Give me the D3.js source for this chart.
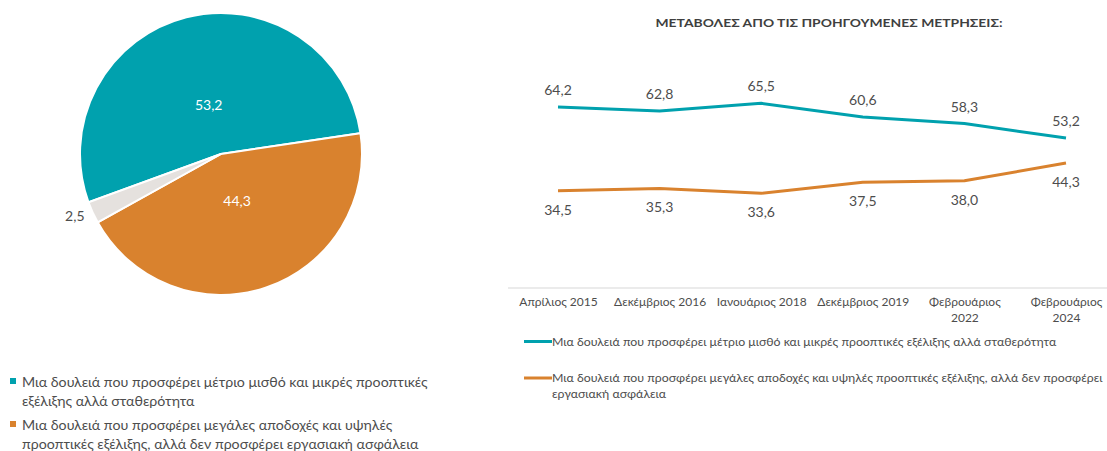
<!DOCTYPE html>
<html lang="el">
    <head>
        <meta charset="utf-8">
        <title>Σταθερότητα ή αποδοχές</title>
        <script type="text/javascript" src="https://cdn.jsdelivr.net/npm/d3@7/dist/d3.min.js"></script>
        <style>
        body { margin: 0; background: #fff; }
        svg { display: block; font-family: Lato, "Open Sans", sans-serif; }
        </style>
    </head>
    <body>
        <script type="text/javascript">
            // pie data (latest wave)
            var pieLabels = ["Σταθερότητα", "Αποδοχές", "ΔΓ/ΔΑ"];
            var pieValues = [53.2, 44.3, 2.5];
            var pieColors = ["#00A1AE", "#D9822E", "#E5E1DE"];

            // line chart: previous measurements
            var waves = ["Απρίλιος 2015", "Δεκέμβριος 2016", "Ιανουάριος 2018",
                         "Δεκέμβριος 2019", "Φεβρουάριος 2022", "Φεβρουάριος 2024"];
            var stability = [64.2, 62.8, 65.5, 60.6, 58.3, 53.2];
            var earnings  = [34.5, 35.3, 33.6, 37.5, 38.0, 44.3];

            var legendTexts = [
                "Μια δουλειά που προσφέρει μέτριο μισθό και μικρές προοπτικές εξέλιξης αλλά σταθερότητα",
                "Μια δουλειά που προσφέρει μεγάλες αποδοχές και υψηλές προοπτικές εξέλιξης, αλλά δεν προσφέρει εργασιακή ασφάλεια"
            ];

            var w = 1107;
            var h = 451;
            var textGrey = "#4d4d4d";

            var svg = d3.select("body")
                        .append("svg")
                        .attr("width", w)
                        .attr("height", h);

            // ---- pie ----
            var cx = 221, cy = 154, radius = 141;

            var pie = d3.pie()
                        .sort(null)
                        .startAngle(-110 * Math.PI / 180)
                        .endAngle(250 * Math.PI / 180);

            var arc = d3.arc().innerRadius(0).outerRadius(radius);
            var labelArc = d3.arc().innerRadius(50).outerRadius(50);
            var outerArc = d3.arc().innerRadius(150).outerRadius(150);

            var pieG = svg.append("g")
                          .attr("transform", "translate(" + cx + "," + cy + ")");

            var slices = pie(pieValues);

            pieG.selectAll("path")
                .data(slices)
                .enter()
                .append("path")
                .attr("d", arc)
                .attr("fill", function(d, i) { return pieColors[i]; })
                .attr("stroke", "#fff")
                .attr("stroke-width", 2);

            pieG.selectAll("text")
                .data(slices)
                .enter()
                .append("text")
                .attr("transform", function(d) {
                    var c = d.data < 5 ? outerArc.centroid(d) : labelArc.centroid(d);
                    return "translate(" + c + ")";
                })
                .attr("dy", "0.35em")
                .attr("text-anchor", function(d) { return d.data < 5 ? "end" : "middle"; })
                .attr("font-size", 14)
                .attr("fill", function(d) { return d.data < 5 ? textGrey : "#fff"; })
                .text(function(d) { return d3.format(".1f")(d.data).replace(".", ","); });

            // left legend
            var leftLegend = [
                ["Μια δουλειά που προσφέρει μέτριο μισθό και μικρές προοπτικές", "εξέλιξης αλλά σταθερότητα"],
                ["Μια δουλειά που προσφέρει μεγάλες αποδοχές και υψηλές", "προοπτικές εξέλιξης, αλλά δεν προσφέρει εργασιακή ασφάλεια"]
            ];
            leftLegend.forEach(function(lines, i) {
                var y0 = 387 + i * 43;
                svg.append("rect")
                   .attr("x", 10).attr("y", y0 - 9)
                   .attr("width", 6).attr("height", 6)
                   .attr("fill", pieColors[i]);
                var t = svg.append("text")
                           .attr("x", 22).attr("y", y0)
                           .attr("font-size", 14.2)
                           .attr("fill", textGrey);
                lines.forEach(function(l, j) {
                    t.append("tspan").attr("x", 22).attr("dy", j ? 19 : 0).text(l);
                });
            });

            // ---- line chart ----
            svg.append("text")
               .attr("x", 829).attr("y", 27)
               .attr("text-anchor", "middle")
               .attr("font-size", 12)
               .attr("font-weight", "bold")
               .attr("fill", "#3f3f3f")
               .attr("textLength", 347)
               .attr("lengthAdjust", "spacingAndGlyphs")
               .text("ΜΕΤΑΒΟΛΕΣ ΑΠΟ ΤΙΣ ΠΡΟΗΓΟΥΜΕΝΕΣ ΜΕΤΡΗΣΕΙΣ:");

            var xScale = d3.scalePoint()
                           .domain(waves)
                           .range([558, 1066]);

            var yScale = d3.scaleLinear()
                           .domain([0, 70])
                           .range([288, 90.6]);

            // baseline
            svg.append("line")
               .attr("x1", 508).attr("x2", w)
               .attr("y1", yScale(0)).attr("y2", yScale(0))
               .attr("stroke", "#e4e4e4")
               .attr("stroke-width", 1.5);

            // category labels (wrap the long ones)
            var xAxis = d3.axisBottom(xScale).tickSize(0).tickPadding(0);
            var axisG = svg.append("g")
                           .attr("transform", "translate(0," + yScale(0) + ")")
                           .call(xAxis);
            axisG.select(".domain").remove();
            axisG.selectAll(".tick text")
                 .attr("font-family", "Lato, 'Open Sans', sans-serif")
                 .attr("font-size", 12)
                 .attr("fill", textGrey)
                 .each(function(d) {
                     var el = d3.select(this);
                     el.text(null).attr("y", 0).attr("dy", null);
                     var parts = d.indexOf("Φεβρουάριος") === 0 ? d.split(" ") : [d];
                     parts.forEach(function(p, j) {
                         el.append("tspan").attr("x", 0).attr("y", 18 + j * 16).text(p);
                     });
                 });

            var series = [
                { values: stability, color: pieColors[0], above: true },
                { values: earnings,  color: pieColors[1], above: false }
            ];

            var line = d3.line()
                         .x(function(d, i) { return xScale(waves[i]); })
                         .y(function(d) { return yScale(d); });

            series.forEach(function(s) {
                svg.append("path")
                   .datum(s.values)
                   .attr("d", line)
                   .attr("fill", "none")
                   .attr("stroke", s.color)
                   .attr("stroke-width", 3)
                   .attr("stroke-linejoin", "round");

                svg.append("g")
                   .selectAll("text")
                   .data(s.values)
                   .enter()
                   .append("text")
                   .attr("x", function(d, i) { return xScale(waves[i]); })
                   .attr("y", function(d) { return yScale(d) + (s.above ? -12 : 24); })
                   .attr("text-anchor", "middle")
                   .attr("font-size", 14)
                   .attr("fill", textGrey)
                   .text(function(d) { return d3.format(".1f")(d).replace(".", ","); });
            });

            // right legend
            var rightLegend = [
                [legendTexts[0]],
                ["Μια δουλειά που προσφέρει μεγάλες αποδοχές και υψηλές προοπτικές εξέλιξης, αλλά δεν προσφέρει", "εργασιακή ασφάλεια"]
            ];
            rightLegend.forEach(function(lines, i) {
                var ly = 341.5 + i * 36.5;
                svg.append("line")
                   .attr("x1", 524).attr("x2", 552)
                   .attr("y1", ly).attr("y2", ly)
                   .attr("stroke", pieColors[i])
                   .attr("stroke-width", 3);
                var t = svg.append("text")
                           .attr("x", 552).attr("y", ly + 4)
                           .attr("font-size", 12.3)
                           .attr("fill", textGrey);
                lines.forEach(function(l, j) {
                    t.append("tspan").attr("x", 552).attr("dy", j ? 16 : 0).text(l);
                });
            });
        </script>
    </body>
</html>
